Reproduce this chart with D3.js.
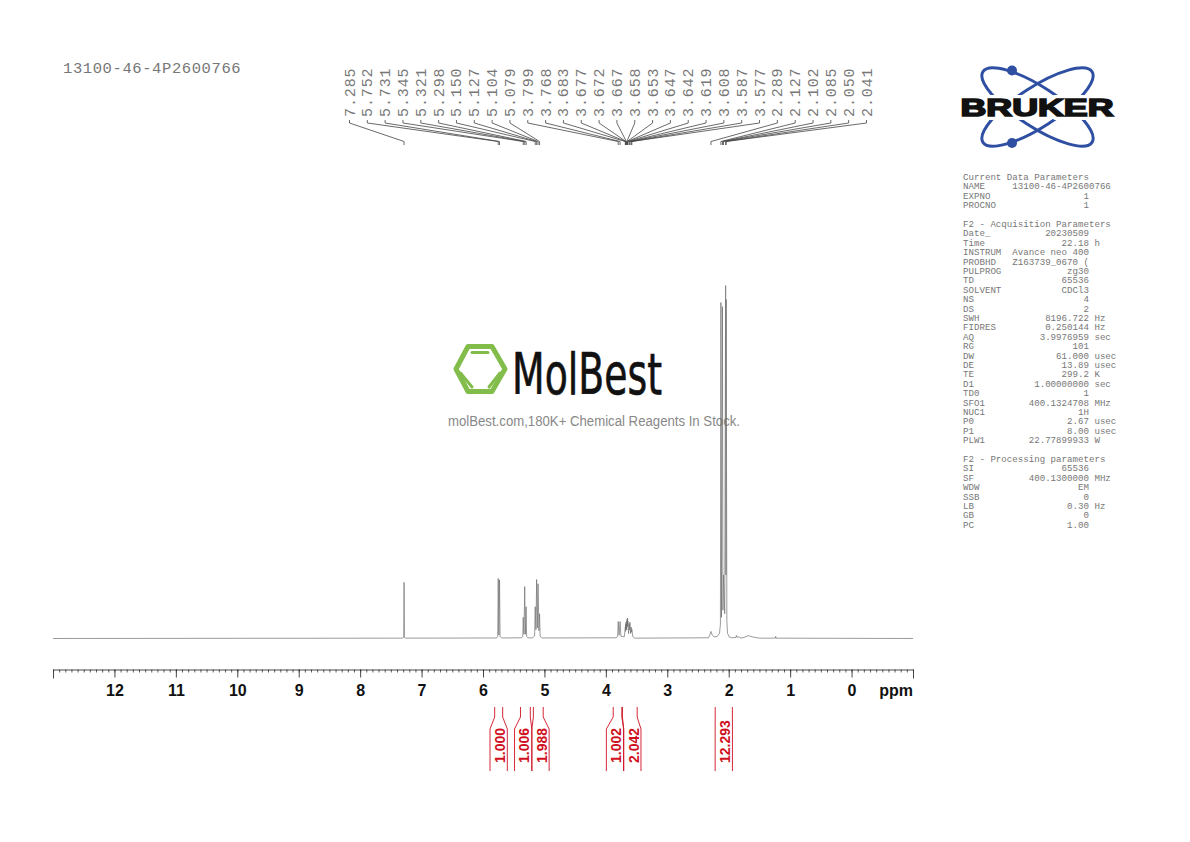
<!DOCTYPE html>
<html>
<head>
<meta charset="utf-8">
<script src="https://cdn.jsdelivr.net/npm/d3@7"></script>
<style>
  body { margin: 0; background: #fff; }
  svg { display: block; }
  .mono { font-family: "Liberation Mono", "Courier New", monospace; }
  .sans { font-family: "Liberation Sans", Helvetica, Arial, sans-serif; }
</style>
</head>
<body>
<div id="chart"></div>
<script>
// spectrum trace (intensity: tallest line = 100)
const tracePpm = [13.0, 7.31, 7.29, 7.285, 7.28, 7.26,
  5.78, 5.76, 5.752, 5.742, 5.731, 5.722, 5.70,
  5.37, 5.352, 5.345, 5.333, 5.321, 5.31, 5.298, 5.29, 5.27,
  5.20, 5.16, 5.15, 5.138, 5.127, 5.115, 5.104, 5.09, 5.079, 5.07, 5.04,
  3.83, 3.808, 3.799, 3.785, 3.768, 3.755, 3.70,
  3.683, 3.68, 3.677, 3.675, 3.672, 3.67, 3.667, 3.662, 3.658, 3.656, 3.653, 3.65, 3.647, 3.645, 3.642,
  3.63, 3.619, 3.613, 3.608, 3.597, 3.587, 3.582, 3.577, 3.56, 3.53,
  2.33, 2.31, 2.289, 2.27, 2.24, 2.19, 2.15, 2.135, 2.127, 2.118, 2.102, 2.094, 2.085, 2.065, 2.05, 2.045, 2.041, 2.03, 2.02, 1.99,
  1.95, 1.88, 1.875, 1.86, 1.84, 1.80, 1.75, 1.68, 1.60, 1.50, 1.24, 1.235, 1.23, -1.0];
const traceInt = [0, 0.1, 0.3, 15.9, 0.3, 0.1,
  0.15, 0.6, 17, 1.0, 16.6, 0.6, 0.15,
  0.2, 0.6, 6, 1.2, 14.7, 1.2, 9, 0.6, 0.2,
  0.15, 0.7, 9, 2.5, 16.7, 3, 15.5, 2.2, 7, 0.6, 0.15,
  0.2, 0.7, 4.8, 0.9, 4.8, 0.6, 0.5,
  3.2, 2, 4, 2.6, 4.6, 2.8, 4, 2.4, 5, 3.4, 5.6, 3.8, 5.8, 3.4, 5,
  1.4, 4.2, 2.4, 4.6, 1.4, 3.2, 1.8, 2.6, 0.5, 0.1,
  0.2, 0.9, 2, 1, 0.5, 0.5, 1.5, 4, 95.2, 6, 94, 8, 18, 7, 100, 18, 96, 5, 1.5, 0.4,
  0.2, 0.3, 0.9, 0.3, 0.5, 0.15, 0.3, 0.8, 0.4, 0.1, 0.1, 0.6, 0.1, 0];

// peak picking
const peakLabels = ["7.285", "5.752", "5.731", "5.345", "5.321", "5.298", "5.150", "5.127", "5.104", "5.079",
  "3.799", "3.768", "3.683", "3.677", "3.672", "3.667", "3.658", "3.653", "3.647", "3.642",
  "3.619", "3.608", "3.587", "3.577", "2.289", "2.127", "2.102", "2.085", "2.050", "2.041"];

// integrals
const integralStart = [5.81, 5.39, 5.18, 3.88, 3.73, 2.22];
const integralEnd = [5.68, 5.23, 5.02, 3.74, 3.49, 1.94];
const integralLabels = ["1.000", "1.006", "1.988", "1.002", "2.042", "12.293"];

// axis
const majorTicks = [12, 11, 10, 9, 8, 7, 6, 5, 4, 3, 2, 1, 0];
const axisEnds = [13, -1];

// parameter block
const paramNames = ["Current Data Parameters", "NAME", "EXPNO", "PROCNO", "",
  "F2 - Acquisition Parameters", "Date_", "Time", "INSTRUM", "PROBHD", "PULPROG", "TD", "SOLVENT", "NS", "DS",
  "SWH", "FIDRES", "AQ", "RG", "DW", "DE", "TE", "D1", "TD0", "SFO1", "NUC1", "P0", "P1", "PLW1", "",
  "F2 - Processing parameters", "SI", "SF", "WDW", "SSB", "LB", "GB", "PC"];
const paramValues = ["", "13100-46-4P2600766", "1", "1", "",
  "", "20230509", "22.18", "Avance neo 400", "Z163739_0670 (", "zg30", "65536", "CDCl3", "4", "2",
  "8196.722", "0.250144", "3.9976959", "101", "61.000", "13.89", "299.2", "1.00000000", "1", "400.1324708", "1H", "2.67", "8.00", "22.77899933", "",
  "", "65536", "400.1300000", "EM", "0", "0.30", "0", "1.00"];
const paramUnits = ["", "", "", "", "",
  "", "", "h", "", "", "", "", "", "", "",
  "Hz", "Hz", "sec", "", "usec", "usec", "K", "sec", "", "MHz", "", "usec", "usec", "W", "",
  "", "", "MHz", "", "", "Hz", "", ""];

const sampleName = "13100-46-4P2600766";

const width = 1190, height = 842;
const svg = d3.select("#chart").append("svg")
  .attr("width", width)
  .attr("height", height)
  .attr("viewBox", [0, 0, width, height]);

const x = d3.scaleLinear().domain([13, -1]).range([53, 913]);
const y = d3.scaleLinear().domain([0, 100]).range([638.5, 285.5]);

// watermark goes under the trace
const mol = svg.append("g");
mol.append("path")
  .attr("d", "M456,369 L468,346.5 L492,346.5 L505,369 L492,391.5 L468,391.5 Z")
  .attr("fill", "none").attr("stroke", "#82bd4c").attr("stroke-width", 5).attr("stroke-linejoin", "round");
mol.append("path")
  .attr("d", "M472,352.5 L488,352.5 M460.5,373 L472,387 M500,373 L489,387")
  .attr("fill", "none").attr("stroke", "#82bd4c").attr("stroke-width", 3).attr("stroke-linecap", "round");
mol.append("text")
  .attr("x", 512).attr("y", 394)
  .attr("font-family", "DejaVu Sans")
  .attr("font-size", 57)
  .attr("textLength", 150).attr("lengthAdjust", "spacingAndGlyphs")
  .attr("fill", "#111")
  .attr("stroke", "#111").attr("stroke-width", 0.7)
  .text("MolBest");
mol.append("text").attr("class", "sans")
  .attr("x", 448).attr("y", 426)
  .attr("font-size", 14)
  .attr("textLength", 292).attr("lengthAdjust", "spacingAndGlyphs")
  .attr("fill", "#888")
  .text("molBest.com,180K+ Chemical Reagents In Stock.");

// spectrum
const traceLine = d3.line()
  .x((d, i) => x(tracePpm[i]))
  .y(d => y(d));
svg.append("path")
  .datum(traceInt)
  .attr("d", traceLine)
  .attr("fill", "none")
  .attr("stroke", "#707070")
  .attr("stroke-width", 0.7);

// sample name
svg.append("text").attr("class", "mono")
  .attr("x", 63).attr("y", 73)
  .attr("font-size", 15.5)
  .attr("letter-spacing", 0.6)
  .attr("fill", "#777")
  .text(sampleName);

// peak labels and leads
const labelX = d3.scalePoint().domain(peakLabels).range([349.5, 866.5]);
const peaks = svg.append("g").selectAll("g")
  .data(peakLabels)
  .join("g");
peaks.append("text").attr("class", "mono")
  .attr("transform", d => `translate(${labelX(d) + 5},117) rotate(-90)`)
  .attr("font-size", 15)
  .attr("letter-spacing", 0.9)
  .attr("fill", "#777")
  .text(d => d);
peaks.append("path")
  .attr("d", d => d3.line()([
    [labelX(d), 120], [labelX(d), 123], [x(+d), 141.5], [x(+d), 145]
  ]))
  .attr("fill", "none")
  .attr("stroke", "#444")
  .attr("stroke-width", 0.8);

// x axis, minor ticks first
const minorTicks = d3.range(-10, 131).map(d => d / 10);
svg.append("g")
  .attr("transform", "translate(0,669.5)")
  .call(d3.axisBottom(x).tickValues(minorTicks).tickSize(3).tickFormat("").tickSizeOuter(0))
  .call(g => g.selectAll("line").attr("stroke", "#333").attr("stroke-width", 0.8))
  .call(g => g.select(".domain").attr("stroke", "#333").attr("stroke-width", 0.9));
svg.append("g")
  .attr("transform", "translate(0,669.5)")
  .call(d3.axisBottom(x).tickValues(axisEnds).tickSize(9).tickFormat("").tickSizeOuter(0))
  .call(g => g.select(".domain").remove())
  .call(g => g.selectAll("line").attr("stroke", "#333").attr("stroke-width", 0.9));
const xAxis = d3.axisBottom(x).tickValues(majorTicks).tickSize(8).tickPadding(7).tickFormat(d3.format("d")).tickSizeOuter(0);
svg.append("g")
  .attr("transform", "translate(0,669.5)")
  .call(xAxis)
  .call(g => g.select(".domain").remove())
  .call(g => g.selectAll("line").attr("stroke", "#333").attr("stroke-width", 0.9))
  .call(g => g.selectAll("text")
    .attr("class", "sans")
    .attr("font-size", 16)
    .attr("font-weight", "bold")
    .attr("fill", "#111"));
svg.append("text").attr("class", "sans")
  .attr("x", 913).attr("y", 696)
  .attr("text-anchor", "end")
  .attr("font-size", 16)
  .attr("font-weight", "bold")
  .attr("fill", "#111")
  .text("ppm");

// integrals, labels get pushed apart when they would touch
const labelWidth = 17.3;
const integralCenters = integralLabels.map((d, i) => (x(integralStart[i]) + x(integralEnd[i])) / 2);
for (let i = 0; i < integralCenters.length - 1; i++) {
  const gap = integralCenters[i + 1] - integralCenters[i];
  if (gap < labelWidth) {
    integralCenters[i] -= (labelWidth - gap) / 2;
    integralCenters[i + 1] += (labelWidth - gap) / 2;
  }
}
const integrals = svg.append("g").selectAll("g")
  .data(integralLabels)
  .join("g");
integrals.append("path")
  .attr("d", (d, i) => {
    const c = integralCenters[i];
    const left = [[x(integralStart[i]), 707], [x(integralStart[i]), 717], [c - labelWidth / 2, 729], [c - labelWidth / 2, 771]];
    const right = [[x(integralEnd[i]), 707], [x(integralEnd[i]), 717], [c + labelWidth / 2, 729], [c + labelWidth / 2, 771]];
    return d3.line()(left) + d3.line()(right);
  })
  .attr("fill", "none")
  .attr("stroke", "#cf1020")
  .attr("stroke-width", 0.9);
integrals.append("text").attr("class", "sans")
  .attr("transform", (d, i) => `translate(${integralCenters[i] + 6.2},763) rotate(-90)`)
  .attr("font-size", 14)
  .attr("font-weight", "bold")
  .attr("fill", "#cf1020")
  .text(d => d);

// parameter block, laid out on the character grid like the printout
const paramLines = paramNames.map((name, i) => {
  const value = paramValues[i];
  if (!value) return name;
  let row = name.padEnd(9, " ");
  row = row + value.padStart(Math.max(23 - row.length, 0), " ");
  if (paramUnits[i]) row = row + " " + paramUnits[i];
  return row;
});
svg.append("g").selectAll("text")
  .data(paramLines)
  .join("text")
  .attr("class", "mono")
  .attr("xml:space", "preserve")
  .style("white-space", "pre")
  .attr("x", 963)
  .attr("y", (d, i) => 180 + i * 9.4)
  .attr("font-size", 9.13)
  .attr("fill", "#777")
  .text(d => d);

// Bruker logo
const logo = svg.append("g");
const orbit = logo.append("g").attr("fill", "none").attr("stroke", "#2f4fa2").attr("stroke-width", 3);
[33, -33].forEach(a => {
  orbit.append("ellipse")
    .attr("cx", 1037.5).attr("cy", 107)
    .attr("rx", 65).attr("ry", 20)
    .attr("transform", `rotate(${a} 1037.5 107)`);
});
[70.5, 143].forEach(cy => {
  logo.append("circle").attr("cx", 1012).attr("cy", cy).attr("r", 5).attr("fill", "#2f4fa2");
});
logo.append("text").attr("class", "sans")
  .attr("x", 960.5).attr("y", 115.5)
  .attr("font-size", 24)
  .attr("font-weight", "bold")
  .attr("textLength", 153).attr("lengthAdjust", "spacingAndGlyphs")
  .attr("fill", "#111")
  .attr("stroke", "#fff").attr("stroke-width", 8).attr("paint-order", "stroke")
  .text("BRUKER");
logo.append("text").attr("class", "sans")
  .attr("x", 960.5).attr("y", 115.5)
  .attr("font-size", 24)
  .attr("font-weight", "bold")
  .attr("textLength", 153).attr("lengthAdjust", "spacingAndGlyphs")
  .attr("fill", "#111")
  .attr("stroke", "#111").attr("stroke-width", 1.6)
  .text("BRUKER");
</script>
</body>
</html>
